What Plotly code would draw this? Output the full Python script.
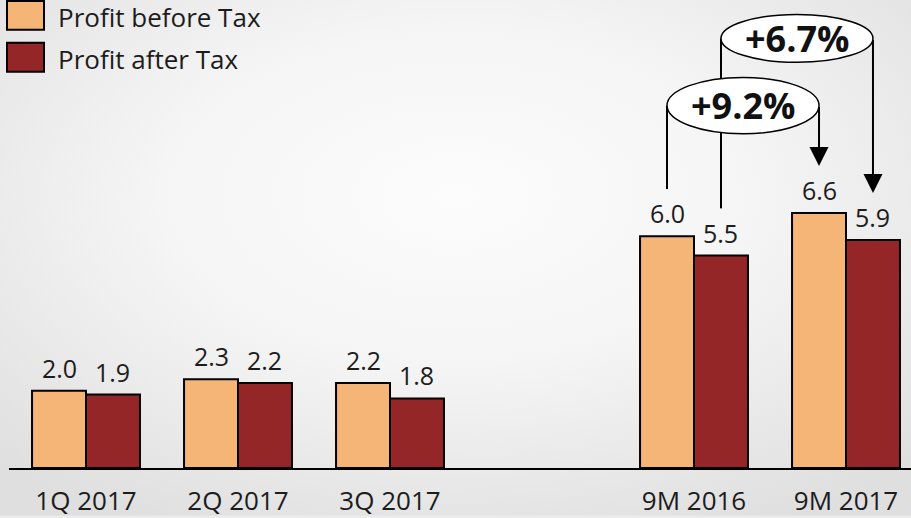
import base64
import plotly.graph_objects as go

# ---------------- data ----------------
categories = ["1Q 2017", "2Q 2017", "3Q 2017", "9M 2016", "9M 2017"]
slots = [0, 1, 2, 4, 5]          # slot 3 is an empty gap
series_names = ["Profit before Tax", "Profit after Tax"]
profit_before_tax = [2.0, 2.3, 2.2, 6.0, 6.6]
profit_after_tax = [1.9, 2.2, 1.8, 5.5, 5.9]
growth_labels = ["+9.2%", "+6.7%"]   # before tax, after tax (9M 2016 -> 9M 2017)

# ---------------- styling ----------------
ORANGE = "#F5B577"
RED = "#952627"
TXT = "#1c1c1c"
FONT = "Open Sans"

W, H = 911, 518
ML, MR, MT, MB = 9, 0, 0, 48
PW, PH = W - ML - MR, H - MT - MB
PX_PER_UNIT = 38.8
Y_TOP = PH / PX_PER_UNIT
BARGAP = 0.29
HALF = (1 - BARGAP) / 4          # offset of each bar centre from slot centre


def px_x(p):
    return (p - ML) / PW


def px_y(p):
    return (MT + PH - p) / PH


fig = go.Figure()
colors = [ORANGE, RED]
for name, vals, col in zip(series_names, [profit_before_tax, profit_after_tax], colors):
    fig.add_trace(go.Bar(
        x=slots, y=vals, name=name, marker=dict(color=col, line=dict(color="#000", width=2)),
        showlegend=False, hoverinfo="skip"))

annotations = []
# value labels
for vals, sign in [(profit_before_tax, -1), (profit_after_tax, 1)]:
    for s, v in zip(slots, vals):
        annotations.append(dict(x=s + sign * HALF, y=v, xref="x", yref="y", text=f"{v:.1f}",
                                showarrow=False, yanchor="bottom", yshift=4,
                                font=dict(family=FONT, size=25, color=TXT)))

# growth brackets
GAP = 1.22
i16, i17 = slots[categories.index("9M 2016")], slots[categories.index("9M 2017")]
shapes = []
ell = [  # (series values, sign, centre y, half height, label)
    (profit_before_tax, -1, 9.38, 0.73, growth_labels[0]),
    (profit_after_tax, 1, 11.12, 0.62, growth_labels[1]),
]
for vals, sign, cy, hh, lab in ell:
    xa, xb = i16 + sign * HALF, i17 + sign * HALF
    v16 = vals[categories.index("9M 2016")]
    v17 = vals[categories.index("9M 2017")]
    shapes.append(dict(type="line", xref="x", yref="y", x0=xa, x1=xa, y0=cy, y1=v16 + GAP,
                       line=dict(color="#000", width=2)))
    annotations.append(dict(x=xb, y=v17 + GAP, ax=xb, ay=cy, xref="x", yref="y",
                            axref="x", ayref="y", text="", showarrow=True, arrowhead=2,
                            arrowsize=1.9, arrowwidth=2, arrowcolor="#000"))
for vals, sign, cy, hh, lab in ell:
    xa, xb = i16 + sign * HALF, i17 + sign * HALF
    shapes.append(dict(type="circle", xref="x", yref="y", x0=xa, x1=xb, y0=cy - hh, y1=cy + hh,
                       fillcolor="#ffffff", line=dict(color="#000", width=1.5)))
    annotations.append(dict(x=(xa + xb) / 2, y=cy, xref="x", yref="y", text=f"<b>{lab}</b>",
                            showarrow=False, font=dict(family=FONT, size=36, color="#111")))

# custom legend (large swatches)
for k, (name, col) in enumerate(zip(series_names, colors)):
    top = 1 + 42 * k
    shapes.append(dict(type="rect", xref="paper", yref="paper", x0=px_x(7), x1=px_x(44),
                       y0=px_y(top + 29), y1=px_y(top), fillcolor=col,
                       line=dict(color="#000", width=2)))
    annotations.append(dict(x=px_x(56), y=px_y(top + 16), xref="paper", yref="paper",
                            text=name, showarrow=False, xanchor="left", yanchor="middle",
                            font=dict(family=FONT, size=26, color=TXT)))

# radial gradient background
svg = f'''<svg xmlns="http://www.w3.org/2000/svg" width="{W}" height="{H}">
<defs><radialGradient id="g" cx="0.5" cy="0.38" r="0.72">
<stop offset="0" stop-color="#fcfcfc"/><stop offset="0.45" stop-color="#f5f5f5"/>
<stop offset="1" stop-color="#dfdfdf"/></radialGradient></defs>
<rect width="{W}" height="{H}" fill="url(#g)"/></svg>'''
src = "data:image/svg+xml;base64," + base64.b64encode(svg.encode()).decode()

fig.update_layout(
    width=W, height=H, margin=dict(l=ML, r=MR, t=MT, b=MB),
    paper_bgcolor="#ececec", plot_bgcolor="rgba(0,0,0,0)",
    barmode="group", bargap=BARGAP, bargroupgap=0,
    shapes=shapes, annotations=annotations,
    images=[dict(source=src, xref="paper", yref="paper", x=px_x(0), y=1 + MT / PH,
                 sizex=W / PW, sizey=H / PH, xanchor="left", yanchor="top",
                 sizing="stretch", layer="below")],
    xaxis=dict(range=[-77 / 152, (W - 86) / 152], tickmode="array",
               tickvals=slots, ticktext=categories, showline=True, linecolor="#000",
               linewidth=2, showgrid=False, zeroline=False, ticks="", ticklabelstandoff=9,
               tickfont=dict(family=FONT, size=26, color=TXT), fixedrange=True),
    yaxis=dict(range=[0, Y_TOP], visible=False, fixedrange=True),
    font=dict(family=FONT),
)
fig.write_html("out.html", config={"displayModeBar": False},
               post_script="document.body.style.margin='0';document.body.style.overflow='hidden';")
